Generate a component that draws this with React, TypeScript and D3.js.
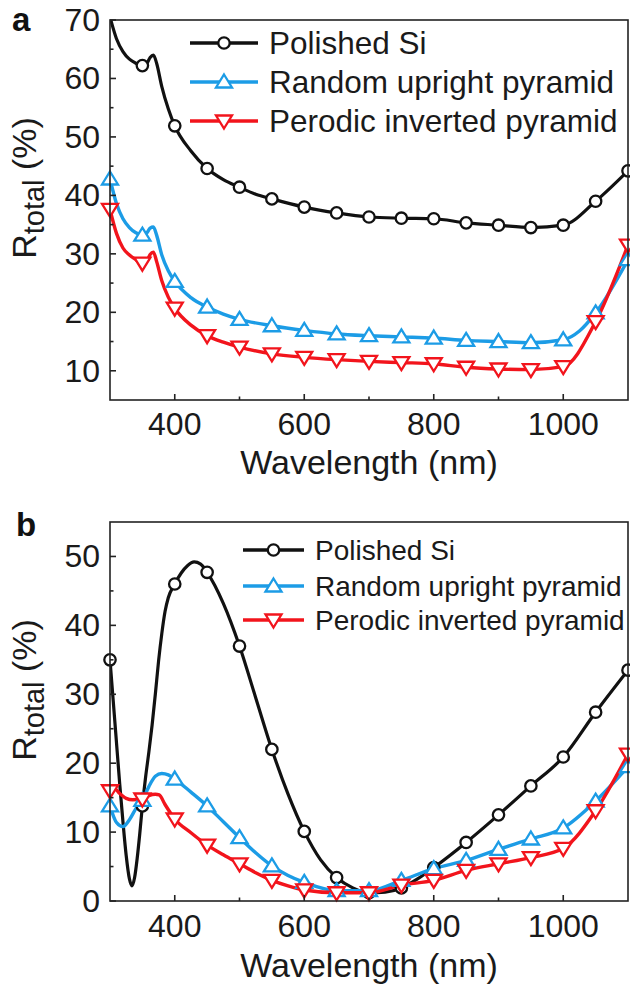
import * as d3 from "d3";

const W = 630;
const H = 992;
const FONT = "'Liberation Sans', Arial, Helvetica, sans-serif";

// wavelength (nm), total reflectance (%)
// panel a
const polishedA: [number, number][] = [
  [300, 70.5], [310, 66.8], [320, 64.6], [330, 63.3], [340, 62.6], [350, 62.2],
  [357, 62.6], [362, 63.6], [367, 64.0], [372, 62.6], [380, 58.6], [390, 54.8],
  [400, 51.9], [425, 47.6], [450, 44.6], [475, 42.7], [500, 41.4], [525, 40.2],
  [550, 39.4], [600, 38.0], [650, 37.0], [700, 36.3], [750, 36.1], [800, 36.0],
  [850, 35.3], [900, 34.9], [950, 34.5], [1000, 34.9], [1050, 39.0], [1100, 44.2],
];
const randomA: [number, number][] = [
  [300, 42.8], [310, 38.6], [320, 36.0], [330, 34.5], [340, 33.6], [350, 33.2],
  [357, 33.6], [362, 34.4], [367, 34.6], [372, 33.2], [380, 29.8], [390, 27.1],
  [400, 25.3], [425, 22.5], [450, 20.9], [475, 19.7], [500, 18.8], [550, 17.7],
  [600, 16.9], [650, 16.3], [700, 16.0], [750, 15.8], [800, 15.6], [850, 15.2],
  [900, 15.0], [950, 14.8], [1000, 15.3], [1025, 16.8], [1050, 19.9], [1100, 29.0],
];
const periodicA: [number, number][] = [
  [300, 37.6], [310, 33.5], [320, 31.0], [330, 29.8], [340, 29.0], [350, 28.4],
  [357, 28.8], [362, 29.9], [367, 30.3], [372, 28.7], [380, 25.4], [390, 22.6],
  [400, 20.7], [425, 17.8], [450, 16.0], [475, 14.9], [500, 14.05], [550, 12.9],
  [600, 12.3], [650, 11.9], [700, 11.6], [750, 11.4], [800, 11.2], [850, 10.6],
  [900, 10.3], [950, 10.2], [1000, 10.7], [1050, 18.4], [1100, 31.5],
];

// panel b
const polishedB: [number, number][] = [
  [300, 35.0], [305, 29.0], [310, 23.0], [315, 17.0], [320, 11.5], [325, 6.6],
  [330, 3.2], [334, 2.2], [338, 3.4], [342, 6.2], [346, 9.8], [350, 13.8],
  [355, 18.0], [360, 21.6], [365, 25.5], [370, 30.0], [375, 34.8], [380, 38.8],
  [385, 42.0], [390, 44.0], [400, 46.0], [410, 47.6], [420, 48.7], [430, 49.2],
  [440, 48.9], [450, 47.7], [475, 43.2], [500, 37.0], [525, 29.5], [550, 22.0],
  [575, 15.5], [600, 10.1], [625, 6.0], [650, 3.4], [675, 1.9], [700, 1.2],
  [725, 1.3], [750, 1.9], [775, 3.2], [800, 4.85], [850, 8.5], [900, 12.5],
  [950, 16.7], [1000, 20.9], [1050, 27.4], [1100, 33.5],
];
const randomB: [number, number][] = [
  [300, 13.8], [310, 11.4], [320, 10.8], [330, 11.8], [340, 13.4], [350, 14.6],
  [360, 16.6], [370, 18.1], [380, 18.5], [390, 18.3], [400, 17.7], [425, 15.8],
  [450, 13.8], [475, 11.5], [500, 9.2], [525, 7.0], [550, 5.1], [575, 3.7],
  [600, 2.7], [650, 1.5], [700, 1.5], [750, 3.0], [800, 4.7], [850, 5.9],
  [900, 7.5], [950, 9.0], [1000, 10.6], [1050, 14.5], [1100, 19.5],
];
const periodicB: [number, number][] = [
  [300, 16.0], [307, 16.3], [315, 15.6], [325, 14.9], [335, 14.7], [350, 14.8],
  [360, 15.3], [370, 15.5], [376, 15.4], [385, 14.0], [400, 11.9], [425, 9.9],
  [450, 8.1], [475, 6.7], [500, 5.4], [525, 4.1], [550, 3.0], [575, 2.2],
  [600, 1.6], [650, 1.2], [700, 1.2], [750, 2.3], [800, 3.0], [850, 4.45],
  [900, 5.4], [950, 6.3], [1000, 7.65], [1050, 13.1], [1100, 21.3],
];

const seriesNames = ["Polished Si", "Random upright pyramid", "Perodic inverted pyramid"];
const seriesColors = ["#111111", "#1c9ce6", "#f2141c"];
const seriesShapes = ["circle", "up", "down"];

const xMajor = [400, 600, 800, 1000];
const xMinor = [500, 700, 900];
const yMajorA = [10, 20, 30, 40, 50, 60, 70];
const yMinorA = [15, 25, 35, 45, 55, 65];
const yMajorB = [0, 10, 20, 30, 40, 50];
const yMinorB = [5, 15, 25, 35, 45];

const LEFT = 110;
const RIGHT = 628;

function Marker({ shape, x, y, color }) {
  if (shape === "circle") {
    return <circle cx={x} cy={y} r={5.7} fill="white" stroke={color} strokeWidth={2.3} />;
  }
  const d =
    shape === "up"
      ? `M${x},${y - 7.5} L${x + 8},${y + 5.5} L${x - 8},${y + 5.5} Z`
      : `M${x},${y + 7.5} L${x + 8},${y - 5.5} L${x - 8},${y - 5.5} Z`;
  return <path d={d} fill="white" stroke={color} strokeWidth={2.3} strokeLinejoin="miter" />;
}

function Panel({ id, data, top, bottom, yDomain, yMajor, yMinor, label, labelPos, tickBase, titleBase, yLabelMid, legend }) {
  const x = d3.scaleLinear().domain([300, 1100]).range([LEFT, RIGHT]);
  const y = d3.scaleLinear().domain(yDomain).range([bottom, top]);
  const line = d3
    .line<[number, number]>()
    .x((d) => x(d[0]))
    .y((d) => y(d[1]))
    .curve(d3.curveMonotoneX);

  return (
    <g>
      <defs>
        <clipPath id={`clip-${id}`}>
          <rect x={LEFT} y={top} width={RIGHT - LEFT} height={bottom - top} />
        </clipPath>
      </defs>
      <g clipPath={`url(#clip-${id})`}>
        {data.map((s, i) => (
          <path key={i} d={line(s)} fill="none" stroke={seriesColors[i]} strokeWidth={i === 0 ? 3.2 : 3.4} />
        ))}
      </g>
      {data.map((s, i) => (
        <g key={i}>
          {s
            .filter((d) => d[0] % 50 === 0 && d[1] <= yDomain[1])
            .map((d, j) => (
              <Marker key={j} shape={seriesShapes[i]} x={x(d[0])} y={y(d[1])} color={seriesColors[i]} />
            ))}
        </g>
      ))}

      {/* frame */}
      <rect x={LEFT} y={top} width={RIGHT - LEFT} height={bottom - top} fill="none" stroke="#222" strokeWidth={1.6} />

      {/* ticks, pointing inward */}
      {xMajor.map((t) => (
        <line key={t} x1={x(t)} x2={x(t)} y1={bottom} y2={bottom - 6} stroke="#222" strokeWidth={1.6} />
      ))}
      {xMinor.map((t) => (
        <line key={t} x1={x(t)} x2={x(t)} y1={bottom} y2={bottom - 3.5} stroke="#222" strokeWidth={1.6} />
      ))}
      {yMajor.map((t) => (
        <line key={t} x1={LEFT} x2={LEFT + 6} y1={y(t)} y2={y(t)} stroke="#222" strokeWidth={1.6} />
      ))}
      {yMinor.map((t) => (
        <line key={t} x1={LEFT} x2={LEFT + 3.5} y1={y(t)} y2={y(t)} stroke="#222" strokeWidth={1.6} />
      ))}

      {/* tick labels */}
      <g fontFamily={FONT} fontSize={32} fill="#1a1a1a">
        {xMajor.map((t) => (
          <text key={t} x={x(t)} y={tickBase} textAnchor="middle">
            {t}
          </text>
        ))}
        {yMajor.map((t) => (
          <text key={t} x={100} y={y(t) + 11} textAnchor="end">
            {t}
          </text>
        ))}
      </g>

      <text x={(LEFT + RIGHT) / 2} y={titleBase} textAnchor="middle" fontFamily={FONT} fontSize={34} fill="#1a1a1a">
        Wavelength (nm)
      </text>
      <text
        transform={`translate(36,${yLabelMid}) rotate(-90)`}
        textAnchor="middle"
        fontFamily={FONT}
        fontSize={34}
        fill="#1a1a1a"
      >
        R
        <tspan dy={8} fontSize={29}>
          total
        </tspan>
        <tspan dy={-8}> (%)</tspan>
      </text>

      <text x={labelPos[0]} y={labelPos[1]} fontFamily={FONT} fontSize={33} fontWeight="bold" fill="#111">
        {label}
      </text>

      {/* legend */}
      {seriesNames.map((name, i) => {
        const ry = legend.rows[i];
        return (
          <g key={name}>
            <line x1={legend.x1} x2={legend.x2} y1={ry} y2={ry} stroke={seriesColors[i]} strokeWidth={3.6} />
            <Marker shape={seriesShapes[i]} x={(legend.x1 + legend.x2) / 2} y={ry} color={seriesColors[i]} />
            <text x={legend.tx} y={ry + legend.fs * 0.36} fontFamily={FONT} fontSize={legend.fs} fill="#1a1a1a">
              {name}
            </text>
          </g>
        );
      })}
    </g>
  );
}

export default function App() {
  return (
    <svg width={W} height={H} style={{ position: "absolute", left: 0, top: 0, background: "white" }}>
      <rect width={W} height={H} fill="white" />
      <Panel
        id="a"
        data={[polishedA, randomA, periodicA]}
        top={20}
        bottom={400}
        yDomain={[5, 70]}
        yMajor={yMajorA}
        yMinor={yMinorA}
        label="a"
        labelPos={[12, 31]}
        tickBase={435}
        titleBase={474}
        yLabelMid={188}
        legend={{ x1: 190, x2: 258, tx: 269, fs: 31.5, rows: [43, 82, 121] }}
      />
      <Panel
        id="b"
        data={[polishedB, randomB, periodicB]}
        top={522}
        bottom={901}
        yDomain={[0, 55]}
        yMajor={yMajorB}
        yMinor={yMinorB}
        label="b"
        labelPos={[16, 536]}
        tickBase={937}
        titleBase={977}
        yLabelMid={690}
        legend={{ x1: 243, x2: 304, tx: 315, fs: 28, rows: [550, 586, 620] }}
      />
    </svg>
  );
}
